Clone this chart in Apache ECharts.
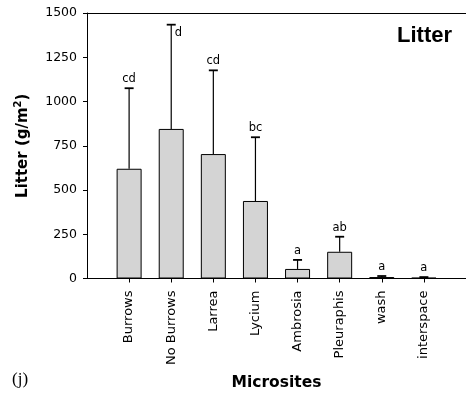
<!DOCTYPE html>
<html>
<head>
<meta charset="utf-8">
<script src="https://cdn.jsdelivr.net/npm/echarts@6/dist/echarts.min.js"></script>
<style>html,body{margin:0;padding:0;background:#fff}#c{width:466px;height:396px}</style>
</head>
<body>
<div id="c"></div>
<script>
const categories = ['Burrows', 'No Burrows', 'Larrea', 'Lycium', 'Ambrosia', 'Pleuraphis', 'wash', 'interspace'];
const means = [620, 845, 703, 438, 54, 151, 8, 4];
const errors = [455, 589, 473, 360, 51, 85, 6, 4];
const letters = ['cd', 'd', 'cd', 'bc', 'a', 'ab', 'a', 'a'];
const yTicks = [0, 250, 500, 750, 1000, 1250, 1500];

// padded category axis: one empty slot on each side
const axisCats = [''].concat(categories, ['']);
const barData = ['-'].concat(means, ['-']);
const errData = categories.map((c, i) => [i + 1, means[i], means[i] + errors[i], letters[i]]);

const chart = echarts.init(document.getElementById('c'), null, {renderer: 'canvas'});
const tickFont = 'DejaVu Sans';
chart.setOption({
  animation: false,
  grid: {left: 87, top: 13, width: 381, bottom: 117.5},
  xAxis: [{
    type: 'category', data: axisCats, boundaryGap: false,
    axisLine: {lineStyle: {color: '#000', width: 1}},
    axisTick: {length: 4, interval: (i) => i > 0 && i < axisCats.length - 1, lineStyle: {color: '#000'}},
    axisLabel: {rotate: 90, margin: 12, color: '#000', fontFamily: tickFont, fontSize: 13, interval: 0},
    name: 'Microsites', nameLocation: 'middle', nameGap: 96,
    nameTextStyle: {fontFamily: 'DejaVu Sans', fontWeight: 'bold', fontSize: 15.5, color: '#000'}
  }, {
    type: 'category', data: axisCats, boundaryGap: false, position: 'top',
    axisLine: {show: true, lineStyle: {color: '#000', width: 1}},
    axisTick: {show: false}, axisLabel: {show: false}
  }],
  yAxis: {
    type: 'value', min: yTicks[0], max: yTicks[yTicks.length - 1], interval: yTicks[1] - yTicks[0],
    splitLine: {show: false},
    axisLine: {show: true, lineStyle: {color: '#000', width: 1}},
    axisTick: {show: true, length: 4, lineStyle: {color: '#000'}},
    axisLabel: {margin: 10, color: '#000', fontFamily: tickFont, fontSize: 12.5, formatter: (v) => String(v)},
    name: '{a|Litter (g/m}{s|2}{a|)}', nameLocation: 'middle', nameGap: 54,
    nameTextStyle: {
      color: '#000',
      rich: {
        a: {fontFamily: 'DejaVu Sans', fontWeight: 'bold', fontSize: 15, color: '#000'},
        s: {fontFamily: 'DejaVu Sans', fontWeight: 'bold', fontSize: 10, color: '#000', verticalAlign: 'top', lineHeight: 20}
      }
    }
  },
  series: [
    {
      type: 'bar', data: barData, barWidth: 25,
      itemStyle: {color: '#d4d4d4', borderColor: '#000', borderWidth: 1}
    },
    {
      type: 'custom', data: errData, z: 5,
      renderItem: function (params, api) {
        const x = api.value(0);
        const lo = api.coord([x, api.value(1)]);
        const hi = api.coord([x, api.value(2)]);
        const letter = api.value(3);
        const half = 4.5;
        const children = [
          {type: 'line', shape: {x1: lo[0], y1: lo[1], x2: hi[0], y2: hi[1]}, style: {stroke: '#000', lineWidth: 1.2}},
          {type: 'line', shape: {x1: hi[0] - half, y1: hi[1], x2: hi[0] + half, y2: hi[1]}, style: {stroke: '#000', lineWidth: 1.8}}
        ];
        const side = (letter === 'd');
        children.push({
          type: 'text',
          style: {
            text: letter,
            x: side ? hi[0] + 3.5 : hi[0],
            y: side ? hi[1] + 2 : hi[1] - 3,
            align: side ? 'left' : 'center',
            verticalAlign: side ? 'top' : 'bottom',
            font: '11.5px "DejaVu Sans"',
            fill: '#000'
          }
        });
        return {type: 'group', children: children};
      }
    }
  ],
  graphic: [
    {type: 'text', right: 14, top: 25, style: {text: 'Litter', font: 'bold 22px "Liberation Sans"', fill: '#000'}},
    {type: 'text', left: 12, top: 371, style: {text: '(j)', font: '17px "Liberation Serif"', fill: '#000'}}
  ]
});
</script>
</body>
</html>
